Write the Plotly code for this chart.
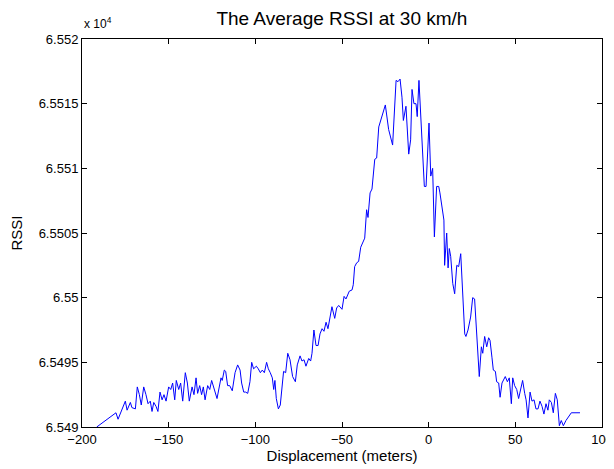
import plotly.graph_objects as go

displacement = [
    -191.5, -180.4, -179.2, -175.0, -174.0, -172.1, -171.2, -169.2, -168.1, -166.9,
    -165.8, -164.4, -163.1, -161.9, -160.6, -159.6, -158.6, -157.3, -156.2, -155.0,
    -153.8, -152.7, -151.5, -150.0, -148.8, -147.7, -146.5, -145.6, -144.2, -143.1,
    -141.9, -140.4, -139.2, -138.1, -136.5, -135.4, -134.2,
    -133.3, -132.1, -131.0, -130.0, -129.0, -127.5, -126.3, -125.2, -123.7, -122.1,
    -119.8, -119.1, -117.9, -117.1, -116.0, -114.8, -113.3, -111.7, -110.2, -108.8,
    -107.9, -106.7, -105.6, -104.4, -103.1, -102.1, -101.0, -99.4, -98.3, -97.1,
    -96.0, -94.8, -93.5, -92.5, -91.4, -90.2, -89.4, -88.7, -87.9, -86.7,
    -85.6, -84.4, -83.7, -82.5, -81.3,
    -80.0, -78.5, -76.9, -75.8, -74.2, -73.1, -71.9, -70.8, -69.2, -68.1,
    -67.3, -66.2, -65.0, -63.8, -62.7, -61.5, -60.4, -59.2, -58.1, -56.5,
    -55.8, -54.2, -53.1, -51.9, -50.0, -48.8, -47.7, -45.8, -44.2, -43.5,
    -42.7, -41.5, -40.4, -39.2, -38.1, -36.9, -35.8, -35.0, -33.8, -32.7,
    -31.1, -30.0, -28.8, -26.9, -25.0, -23.1, -21.9, -20.8, -18.8, -17.7,
    -16.5, -15.4, -14.6, -13.1, -11.5, -10.4, -9.6, -8.5, -7.3, -6.6,
    -5.6, -4.2, -3.5, -2.5, -1.5, 0.2, 1.2, 2.3, 3.3, 4.6,
    5.8, 6.5, 8.8, 9.2, 10.4, 11.2, 11.9, 12.7, 13.9, 15.0,
    16.2, 17.3, 18.5, 19.6, 20.8, 21.5, 22.7, 24.2, 25.4, 26.5,
    27.7, 29.2, 30.4, 31.2, 32.3, 33.5, 34.6, 35.4, 36.5, 37.3,
    38.5, 39.2, 40.4, 41.2, 42.3, 44.2, 45.4, 46.5, 47.7, 48.5,
    49.6, 50.8, 51.9, 53.1, 54.2, 55.4, 56.2, 57.3, 58.5, 59.6,
    60.8, 61.9, 63.1, 64.2, 65.4, 66.5, 67.7, 68.8, 69.6, 70.8,
    71.9, 73.1, 74.2, 75.4, 76.5, 77.7, 79.2, 82.3, 87.3,
]

rssi = [
    65490.0, 65491.1, 65490.6, 65492.0, 65491.3, 65491.9, 65491.5, 65491.4, 65493.1, 65492.5,
    65491.7, 65493.1, 65492.5, 65491.8, 65492.0, 65491.2, 65491.9, 65491.6, 65491.2, 65492.7,
    65492.1, 65492.5, 65492.0, 65493.1, 65492.9, 65493.4, 65492.1, 65493.6, 65492.9, 65493.4,
    65492.0, 65494.2, 65493.4, 65492.0, 65493.1, 65492.5, 65493.8,
    65492.6, 65493.2, 65492.5, 65493.1, 65492.1, 65493.2, 65492.9, 65493.6, 65493.0, 65492.2,
    65493.8, 65493.6, 65494.4, 65494.3, 65493.2, 65493.2, 65492.8, 65494.2, 65494.8, 65494.4,
    65493.4, 65492.7, 65492.7, 65492.6, 65493.5, 65495.0, 65494.5, 65494.7, 65494.5, 65494.2,
    65494.4, 65494.2, 65495.0, 65494.5, 65494.2, 65493.8, 65492.9, 65493.6, 65492.2, 65491.4,
    65491.7, 65493.2, 65494.3, 65494.2, 65495.7,
    65495.2, 65493.9, 65493.5, 65494.8, 65495.5, 65495.1, 65495.2, 65494.7, 65495.3, 65495.1,
    65495.7, 65497.5, 65496.3, 65496.3, 65497.2, 65497.6, 65497.4, 65498.1, 65497.6, 65498.8,
    65499.3, 65498.4, 65499.2, 65499.4, 65499.1, 65500.1, 65499.9, 65500.5, 65500.6, 65501.0,
    65502.4, 65502.7, 65502.8, 65503.9, 65504.3, 65504.6, 65506.8, 65506.2, 65508.1, 65508.4,
    65510.7, 65510.8, 65513.2, 65514.0, 65514.9, 65513.0, 65512.3, 65511.8, 65516.8, 65516.7,
    65516.9, 65515.5, 65513.7, 65514.8, 65511.1, 65512.2, 65516.1, 65515.0, 65515.0, 65514.0,
    65516.8, 65513.2, 65511.7, 65508.6, 65508.6, 65513.5, 65509.4, 65510.0, 65504.7, 65508.6,
    65508.6, 65508.1, 65506.0, 65502.5, 65505.0, 65502.3, 65503.8, 65503.2, 65501.1, 65500.3,
    65502.5, 65502.4, 65503.4, 65500.3, 65497.2, 65497.0, 65497.5, 65498.5, 65500.0, 65499.9,
    65497.0, 65493.9, 65496.2, 65495.7, 65497.0, 65496.2, 65496.9, 65496.7, 65495.4, 65494.4,
    65494.3, 65493.5, 65493.4, 65492.3, 65493.4, 65493.9, 65493.5, 65493.8, 65491.8, 65493.8,
    65493.2, 65492.9, 65492.2, 65492.9, 65493.6, 65492.6, 65492.1, 65490.7, 65492.7, 65492.0,
    65492.1, 65491.4, 65491.4, 65492.0, 65491.6, 65491.0, 65491.8, 65491.3, 65492.1, 65491.9,
    65491.1, 65492.6, 65492.1, 65490.1, 65490.5, 65490.1, 65490.5, 65491.1, 65491.1,
]

x_ticks = [-200, -150, -100, -50, 0, 50, 100]
y_ticks = [65490, 65495, 65500, 65505, 65510, 65515, 65520]
y_tick_labels = ["6.549", "6.5495", "6.55", "6.5505", "6.551", "6.5515", "6.552"]

FONT = "Liberation Sans, Arial, Helvetica, sans-serif"

fig = go.Figure()
fig.add_trace(go.Scatter(
    x=displacement, y=rssi, mode="lines",
    line=dict(color="#0000ff", width=1),
    showlegend=False,
))

axis_common = dict(
    showgrid=False, zeroline=False, showline=True, linecolor="black", linewidth=1,
    mirror="ticks", ticks="inside", ticklen=5, tickcolor="black", tickwidth=1,
    tickfont=dict(family=FONT, size=13, color="black"), automargin=False,
)

# page body has an 8px default margin, so the figure is sized to fit the window
fig.update_layout(
    width=606, height=461,
    margin=dict(l=74, r=12, t=31, b=42),
    paper_bgcolor="white", plot_bgcolor="white",
    title=dict(text="The Average RSSI at 30 km/h", x=0.551, xanchor="center",
               y=0.978, yanchor="middle",
               font=dict(family=FONT, size=19, color="black")),
    xaxis=dict(range=[-200, 100], tickvals=x_ticks,
               ticktext=[("\u2212" + str(-v)) if v < 0 else str(v) for v in x_ticks],
               title=dict(text="Displacement (meters)", standoff=2,
                          font=dict(family=FONT, size=15, color="black")),
               **axis_common),
    yaxis=dict(range=[65490, 65520], tickvals=y_ticks, ticktext=y_tick_labels,
               title=dict(text="RSSI", standoff=15,
                          font=dict(family=FONT, size=15, color="black")),
               **axis_common),
    annotations=[dict(text="x 10<sup>4</sup>", xref="paper", yref="paper",
                      x=0, y=1, xanchor="left", yanchor="bottom", showarrow=False,
                      yshift=6, font=dict(family=FONT, size=12, color="black"))],
)

fig.write_html("out.html")
